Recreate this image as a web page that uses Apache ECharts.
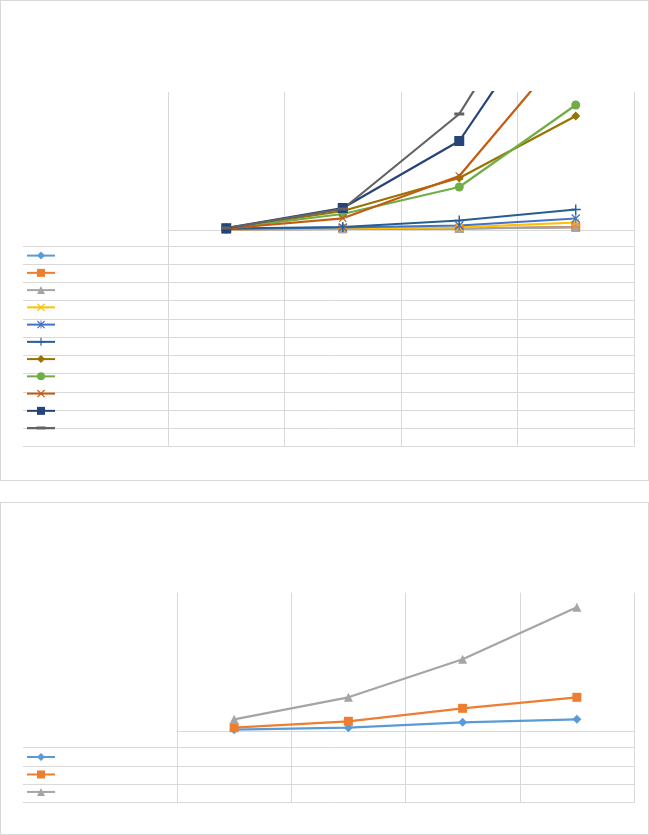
<!DOCTYPE html>
<html>
<head>
<meta charset="utf-8">
<script src="https://cdn.jsdelivr.net/npm/echarts@6/dist/echarts.min.js"></script>
<style>
  html, body { margin: 0; padding: 0; background: #fff; }
  .box { position: absolute; left: 0; width: 649px; border: 1px solid #d9d9d9; box-sizing: border-box; }
  #main { position: absolute; left: 0; top: 0; width: 649px; height: 835px; }
</style>
</head>
<body>
<div class="box" style="top:0;height:481px"></div>
<div class="box" style="top:502px;height:333px"></div>
<div id="main"></div>
<script>
// categories (no labels shown in the picture)
const categories = ['1', '2', '3', '4']

// chart 1 : 11 series
const names1 = ['Series1', 'Series2', 'Series3', 'Series4', 'Series5', 'Series6',
  'Series7', 'Series8', 'Series9', 'Series10', 'Series11']
const s1 = [0.5, 1, 1.5, 3]
const s2 = [0.5, 1.2, 1.5, 3]
const s3 = [0.8, 1.5, 1.5, 2.5]
const s4 = [0.8, 1.5, 2.7, 7.5]
const s5 = [1, 2.5, 4.5, 11.5]
const s6 = [1.5, 3, 9.5, 20.5]
const s7 = [1.5, 19, 52, 114]
const s8 = [1.5, 16, 43, 125]
const s9 = [1.5, 11.7, 54, 192]
const s10 = [1.8, 22, 89, 261]
const s11 = [2, 21, 116, 302]
const values1 = [s1, s2, s3, s4, s5, s6, s7, s8, s9, s10, s11]
const yMax1 = 138

// chart 2 : 3 series
const names2 = ['Series A', 'Series B', 'Series C']
const a1 = [1.3, 3.3, 8.7, 11.7]
const a2 = [3.3, 9.7, 22.7, 33.7]
const a3 = [11.7, 33.7, 71.7, 123.7]
const values2 = [a1, a2, a3]
const yMax2 = 138.3

// marker shapes
const X = 'path://M0,1 L1,0 L5,4 L9,0 L10,1 L6,5 L10,9 L9,10 L5,6 L1,10 L0,9 L4,5 Z'
const PLUS = 'path://M4.3,0 H5.7 V4.3 H10 V5.7 H5.7 V10 H4.3 V5.7 H0 V4.3 H4.3 Z'
const STAR = 'path://M0,1 L1,0 L5,4 L9,0 L10,1 L6,5 L10,9 L9,10 L5,6 L1,10 L0,9 L4,5 Z M4.4,0 H5.6 V10 H4.4 Z'
const DASH = 'path://M0,0 H10 V3 H0 Z'
// legend key for the dash series: line + thick dash, kept to its own aspect
const DASH_KEY = 'path://M0,0.4 H28 V2.6 H0 Z M9.5,0 H18.5 V3 H9.5 Z'

const styles1 = [
  { color: '#5B9BD5', symbol: 'diamond', size: 9 },
  { color: '#ED7D31', symbol: 'rect', size: 9 },
  { color: '#A5A5A5', symbol: 'triangle', size: 9 },
  { color: '#FFC000', symbol: X, size: 8 },
  { color: '#4472C4', symbol: STAR, size: 9 },
  { color: '#255E91', symbol: PLUS, size: 10 },
  { color: '#997300', symbol: 'diamond', size: 9 },
  { color: '#70AD47', symbol: 'circle', size: 9 },
  { color: '#C55A11', symbol: X, size: 8 },
  { color: '#264478', symbol: 'rect', size: 10 },
  { color: '#636363', symbol: DASH, size: 10, keep: true, key: DASH_KEY }
]
const styles2 = styles1.slice(0, 3)

const gridColor = '#d9d9d9'
const hidden = { show: false }

function plotAxes(gi, yMax) {
  return {
    x: {
      type: 'category', gridIndex: gi, data: categories, boundaryGap: true,
      axisLine: { show: true, lineStyle: { color: gridColor, width: 1 } },
      axisTick: hidden, axisLabel: hidden, splitLine: hidden
    },
    y: { type: 'value', gridIndex: gi, min: 0, max: yMax, show: false, splitLine: hidden }
  }
}
function vlineAxes(gi) {
  return {
    x: {
      type: 'category', gridIndex: gi, data: categories, boundaryGap: true,
      axisLine: hidden, axisTick: hidden, axisLabel: hidden,
      splitLine: { show: true, lineStyle: { color: gridColor, width: 1 } }
    },
    y: { type: 'value', gridIndex: gi, show: false, splitLine: hidden }
  }
}
function rowAxes(gi, rows) {
  return {
    x: { type: 'value', gridIndex: gi, show: false, splitLine: hidden },
    y: {
      type: 'category', gridIndex: gi, data: rows, inverse: true, boundaryGap: true,
      axisLine: hidden, axisTick: hidden, axisLabel: hidden,
      splitLine: { show: true, lineStyle: { color: gridColor, width: 1 } }
    }
  }
}

const axes = [
  plotAxes(0, yMax1), vlineAxes(1), rowAxes(2, names1),
  plotAxes(3, yMax2), vlineAxes(4), rowAxes(5, names2)
]

function makeSeries(names, values, styles, axisIndex) {
  return names.map((n, i) => ({
    name: n,
    type: 'line',
    xAxisIndex: axisIndex,
    yAxisIndex: axisIndex,
    data: values[i],
    clip: true,
    symbol: styles[i].symbol,
    symbolSize: styles[i].size,
    symbolKeepAspect: !!styles[i].keep,
    showAllSymbol: true,
    lineStyle: { color: styles[i].color, width: 2.2 },
    itemStyle: { color: styles[i].color },
    emphasis: { disabled: true }
  }))
}

function makeLegend(names, styles, top, rowH) {
  return {
    data: names.map((n, i) => styles[i].key ? { name: n, icon: styles[i].key } : n),
    orient: 'vertical',
    left: 26,
    top: top,
    padding: 0,
    itemWidth: 28,
    itemHeight: 10,
    itemGap: rowH - 10,
    symbolKeepAspect: true,
    selectedMode: false,
    formatter: () => '',
    textStyle: { fontSize: 8 }
  }
}

const chart = echarts.init(document.getElementById('main'))
chart.setOption({
  animation: false,
  backgroundColor: 'transparent',
  grid: [
    { left: 168, top: 92, width: 466, height: 138 },
    { left: 168, top: 92, width: 466, height: 354.7 },
    { left: 23, top: 246, width: 611, height: 200.7 },
    { left: 177, top: 592.7, width: 457, height: 138.3 },
    { left: 177, top: 592.7, width: 457, height: 210 },
    { left: 23, top: 747.3, width: 611, height: 55.4 }
  ],
  xAxis: axes.map(a => a.x),
  yAxis: axes.map(a => a.y),
  legend: [
    makeLegend(names1, styles1, 250.6, 18.25),
    makeLegend(names2, styles2, 752, 18.47)
  ],
  series: [
    ...makeSeries(names1, values1, styles1, 0),
    ...makeSeries(names2, values2, styles2, 3)
  ]
})
</script>
</body>
</html>
